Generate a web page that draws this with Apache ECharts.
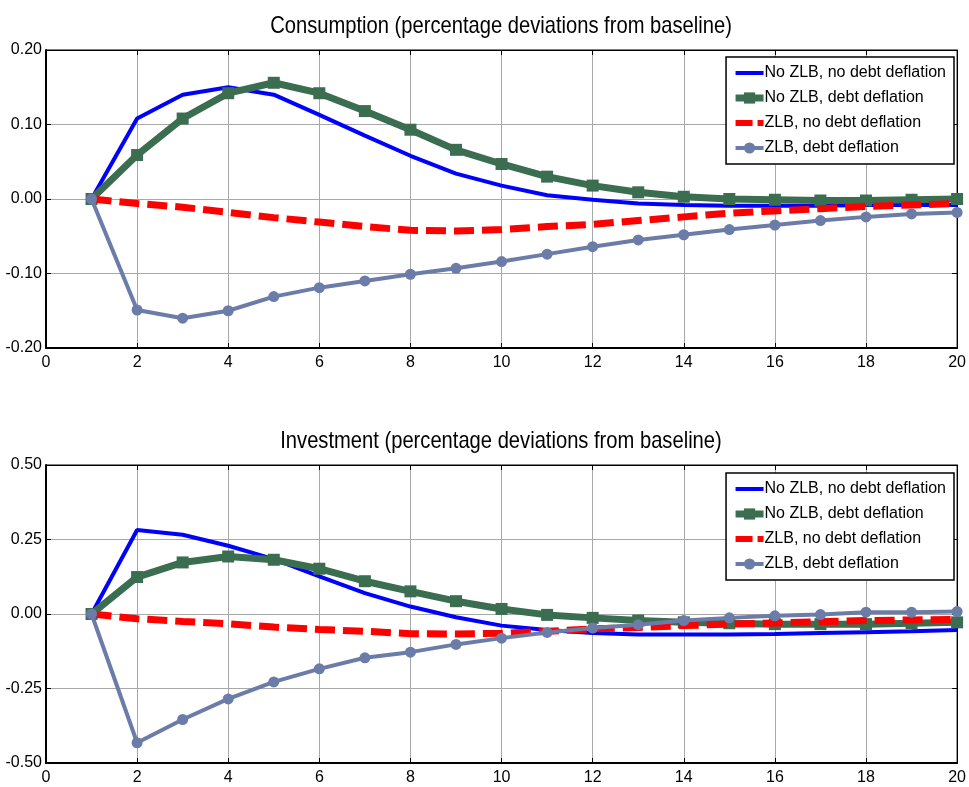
<!DOCTYPE html>
<html>
<head>
<meta charset="utf-8">
<script src="https://cdn.jsdelivr.net/npm/echarts@6/dist/echarts.min.js"></script>
<style>html,body{margin:0;padding:0;background:#fff}#c{width:969px;height:787px}</style>
</head>
<body>
<div id="c"></div>
<script>
// ---- data ----
const periods = [1,2,3,4,5,6,7,8,9,10,11,12,13,14,15,16,17,18,19,20];
const seriesNames = ['No ZLB, no debt deflation','No ZLB, debt deflation','ZLB, no debt deflation','ZLB, debt deflation'];
const titles = ['Consumption (percentage deviations from baseline)','Investment (percentage deviations from baseline)'];

const consNoZlbNoDD = [0,0.108,0.140,0.150,0.140,0.113,0.085,0.058,0.034,0.018,0.005,-0.001,-0.006,-0.008,-0.009,-0.009,-0.009,-0.008,-0.008,-0.008];
const consNoZlbDD   = [0,0.059,0.108,0.142,0.156,0.142,0.118,0.093,0.066,0.047,0.030,0.018,0.009,0.003,0.000,-0.001,-0.002,-0.002,-0.001,0.000];
const consZlbNoDD   = [0,-0.006,-0.011,-0.018,-0.025,-0.031,-0.037,-0.042,-0.043,-0.041,-0.037,-0.034,-0.029,-0.024,-0.019,-0.016,-0.013,-0.010,-0.008,-0.006];
const consZlbDD     = [0,-0.149,-0.160,-0.150,-0.131,-0.119,-0.110,-0.101,-0.093,-0.084,-0.074,-0.064,-0.055,-0.048,-0.041,-0.035,-0.029,-0.024,-0.020,-0.018];

const invNoZlbNoDD = [0,0.282,0.266,0.229,0.184,0.126,0.070,0.025,-0.011,-0.039,-0.054,-0.064,-0.069,-0.069,-0.069,-0.067,-0.064,-0.061,-0.058,-0.054];
const invNoZlbDD   = [0,0.124,0.173,0.193,0.182,0.152,0.110,0.076,0.043,0.017,-0.003,-0.013,-0.022,-0.028,-0.031,-0.034,-0.034,-0.034,-0.031,-0.028];
const invZlbNoDD   = [0,-0.016,-0.025,-0.033,-0.044,-0.052,-0.058,-0.066,-0.067,-0.065,-0.058,-0.050,-0.045,-0.039,-0.034,-0.030,-0.026,-0.022,-0.020,-0.018];
const invZlbDD     = [0,-0.432,-0.354,-0.285,-0.228,-0.184,-0.147,-0.128,-0.102,-0.081,-0.062,-0.047,-0.036,-0.022,-0.013,-0.006,-0.002,0.006,0.006,0.008];

const xTicks = {min:0, max:20, interval:2};
const yTicksTop = {min:-0.2, max:0.2, interval:0.1};
const yTicksBottom = {min:-0.5, max:0.5, interval:0.25};

// ---- chart ----
const FONT = '"Liberation Sans",Arial,sans-serif';
const colors = ['#0000ff','#3b6e51','#ff0000','#6b7ca8'];
const pair = arr => periods.map((p,i)=>[p,arr[i]]);

const grids = [
  {left:46, right:11, top:50, height:298, show:true, borderColor:'#000', borderWidth:1, backgroundColor:'#fff'},
  {left:46, right:11, top:465, height:298, show:true, borderColor:'#000', borderWidth:1, backgroundColor:'#fff'}
];

function xAxisFor(g){
  return [{
    type:'value', gridIndex:g, position:'bottom', min:xTicks.min, max:xTicks.max, interval:xTicks.interval,
    axisLine:{show:true, onZero:false, lineStyle:{color:'#000', width:2}},
    axisTick:{show:true, inside:true, length:5, lineStyle:{color:'#000'}},
    axisLabel:{color:'#000', fontFamily:FONT, fontSize:16, margin:7},
    splitLine:{show:true, lineStyle:{color:'#a8a8a8', width:1}}
  },{
    type:'value', gridIndex:g, position:'top', min:xTicks.min, max:xTicks.max, interval:xTicks.interval,
    axisLine:{show:true, onZero:false, lineStyle:{color:'#000', width:1}},
    axisTick:{show:true, inside:true, length:5, lineStyle:{color:'#000'}},
    axisLabel:{show:false}, splitLine:{show:false}
  }];
}
function yAxisFor(g, t){
  return [{
    type:'value', gridIndex:g, position:'left', min:t.min, max:t.max, interval:t.interval,
    axisLine:{show:true, onZero:false, lineStyle:{color:'#000', width:2}},
    axisTick:{show:true, inside:true, length:5, lineStyle:{color:'#000'}},
    axisLabel:{color:'#000', fontFamily:FONT, fontSize:16, margin:4, formatter:v=>v.toFixed(2)},
    splitLine:{show:true, lineStyle:{color:'#a8a8a8', width:1}}
  },{
    type:'value', gridIndex:g, position:'right', min:t.min, max:t.max, interval:t.interval,
    axisLine:{show:true, onZero:false, lineStyle:{color:'#000', width:1}},
    axisTick:{show:true, inside:true, length:5, lineStyle:{color:'#000'}},
    axisLabel:{show:false}, splitLine:{show:false}
  }];
}

function seriesFor(g, data){
  const xi = g*2, yi = g*2;
  return [
    {name:seriesNames[0], type:'line', xAxisIndex:xi, yAxisIndex:yi, data:pair(data[0]), symbol:'none',
     lineStyle:{color:colors[0], width:4}, itemStyle:{color:colors[0]}, z:2},
    {name:seriesNames[1], type:'line', xAxisIndex:xi, yAxisIndex:yi, data:pair(data[1]), symbol:'rect', symbolSize:12,
     lineStyle:{color:colors[1], width:7}, itemStyle:{color:colors[1]}, z:3},
    {name:seriesNames[2], type:'line', xAxisIndex:xi, yAxisIndex:yi, data:pair(data[2]), symbol:'none',
     lineStyle:{color:colors[2], width:7, type:[20,8]}, itemStyle:{color:colors[2]}, z:4},
    {name:seriesNames[3], type:'line', xAxisIndex:xi, yAxisIndex:yi, data:pair(data[3]), symbol:'circle', symbolSize:11,
     lineStyle:{color:colors[3], width:4}, itemStyle:{color:colors[3]}, z:5}
  ];
}

function legendFor(top){
  const hidden = {color:'rgba(0,0,0,0)', borderWidth:0, opacity:0};
  return {
    orient:'vertical', right:15, top:top,
    data:[
      {name:seriesNames[0], itemStyle:hidden, lineStyle:{width:4, color:colors[0]}},
      {name:seriesNames[1], lineStyle:{width:7, color:colors[1]}},
      {name:seriesNames[2], itemStyle:hidden, lineStyle:{width:6, color:colors[2], type:[17,5]}},
      {name:seriesNames[3], lineStyle:{width:4, color:colors[3]}}
    ],
    backgroundColor:'#fff', borderColor:'#000', borderWidth:1.5, padding:[7,8,7,6],
    itemWidth:28, itemHeight:14, itemGap:7, selectedMode:false,
    textStyle:{color:'#000', fontFamily:FONT, fontSize:16, lineHeight:18, padding:[0,0,0,-4]}
  };
}

const chart = echarts.init(document.getElementById('c'), null, {renderer:'canvas'});
chart.setOption({
  animation:false,
  backgroundColor:'#fff',
  graphic:[
    {type:'text', x:501, y:26, scaleX:0.84, z:100,
     style:{text:titles[0], fontFamily:FONT, fontSize:24, fill:'#000', textAlign:'center', textVerticalAlign:'middle'}},
    {type:'text', x:501, y:441, scaleX:0.84, z:100,
     style:{text:titles[1], fontFamily:FONT, fontSize:24, fill:'#000', textAlign:'center', textVerticalAlign:'middle'}}
  ],
  grid:grids,
  xAxis:[...xAxisFor(0), ...xAxisFor(1)],
  yAxis:[...yAxisFor(0, yTicksTop), ...yAxisFor(1, yTicksBottom)],
  legend:[legendFor(57), legendFor(473)],
  series:[
    ...seriesFor(0,[consNoZlbNoDD,consNoZlbDD,consZlbNoDD,consZlbDD]),
    ...seriesFor(1,[invNoZlbNoDD,invNoZlbDD,invZlbNoDD,invZlbDD])
  ]
});
</script>
</body>
</html>
